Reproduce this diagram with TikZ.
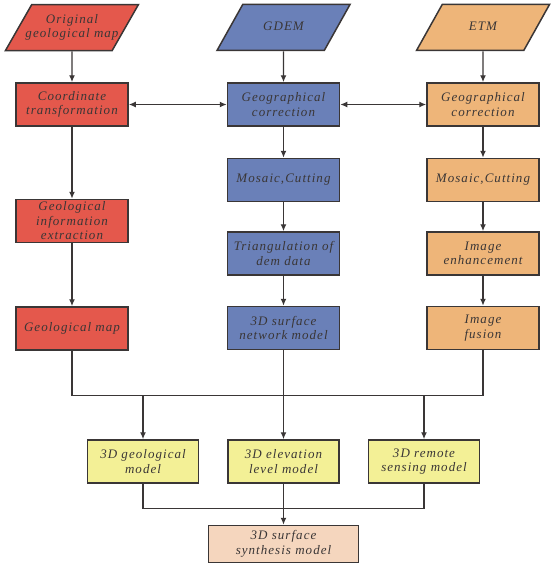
\documentclass[tikz,border=0pt]{standalone}
\usepackage{fontspec}
\setmainfont{Liberation Serif}
\newfontfamily\boxfont[LetterSpace=8]{Liberation Serif}
\usepackage{tikz}
\usetikzlibrary{positioning}
\usetikzlibrary{arrows}
\usetikzlibrary{arrows.meta}
\usetikzlibrary{shapes.geometric,calc}
\definecolor{geored}{RGB}{228,88,76}
\definecolor{demblue}{RGB}{106,128,184}
\definecolor{etmorange}{RGB}{238,181,121}
\definecolor{modelyellow}{RGB}{243,240,150}
\definecolor{synthpeach}{RGB}{245,214,190}
\definecolor{linegray}{RGB}{58,54,54}
\tikzset{proc node/.style={rectangle,draw=linegray,line width=1.5pt,minimum width=112pt,minimum height=43pt,inner sep=1pt,align=center,text=linegray,font=\boxfont\itshape\fontsize{13}{14.5}\selectfont},
data node/.style={trapezium,trapezium stretches body,draw=linegray,line width=1.5pt,minimum width=133pt,minimum height=46pt,inner sep=0pt,align=center,text=linegray,font=\boxfont\itshape\fontsize{13}{14.5}\selectfont},}

\begin{document}
\begin{tikzpicture}[->, >={Latex[length=7pt,width=6pt]}, node distance=30pt, line width=1.3pt, draw=linegray]
	\useasboundingbox (0,0) rectangle (550pt,-563pt);
	% first row of processing boxes
	\node[proc node, fill=geored] (ct) at (72pt,-104.5pt) {Coordinate\\transformation};
	\node[proc node, fill=demblue] (gcM) [right = 98pt of ct] {Geographical\\correction};
	\node[proc node, fill=etmorange] (gcR) [right = 86pt of gcM] {Geographical\\correction};
	% input data
	\node[data node, fill=geored, inner xsep=-8pt, trapezium left angle=45, trapezium right angle=135] (orig) [above = 31pt of ct] {Original\\geological map};
	\node[data node, fill=demblue, text height=9pt, text depth=3pt, trapezium left angle=25, trapezium right angle=155] (gdem) [above = 31pt of gcM] {GDEM};
	\node[data node, fill=etmorange, text height=9pt, text depth=3pt, trapezium left angle=25, trapezium right angle=155] (etm) [above = 31pt of gcR] {ETM};
	% geological column
	\node[proc node, fill=geored] (gie) [below = 72pt of ct] {Geological\\information\\extraction};
	\node[proc node, fill=geored] (gmap) [below = 63pt of gie] {Geological map};
	% dem column
	\node[proc node, fill=demblue] (mosM) [below = 31pt of gcM] {Mosaic,Cutting};
	\node[proc node, fill=demblue] (tri) [below = 29pt of mosM] {Triangulation of\\dem data};
	\node[proc node, fill=demblue] (surf) [below = of tri] {3D surface\\network model};
	% etm column
	\node[proc node, fill=etmorange] (mosR) [below = 31pt of gcR] {Mosaic,Cutting};
	\node[proc node, fill=etmorange] (enh) [below = 29pt of mosR] {Image\\enhancement};
	\node[proc node, fill=etmorange] (fus) [below = of enh] {Image\\fusion};
	% models
	\coordinate[below = 45pt of surf] (busU);
	\node[proc node, fill=modelyellow, minimum width=111pt] (elev) [below = 89pt of surf] {3D elevation\\level model};
	\node[proc node, fill=modelyellow, minimum width=111pt] (geo3d) [left = 28pt of elev] {3D geological\\model};
	\node[proc node, fill=modelyellow, minimum width=111pt] (rs3d) [right = 28pt of elev] {3D remote\\sensing model};
	\coordinate[below = 25pt of elev] (busL);
	\node[proc node, fill=synthpeach, minimum width=150pt, minimum height=37pt] (synth) [below = 41pt of elev] {3D surface\\synthesis model};

	\draw (orig) -- (ct);
	\draw (gdem) -- (gcM);
	\draw (etm) -- (gcR);
	\draw[<->] (ct) -- (gcM);
	\draw[<->] (gcM) -- (gcR);
	\draw (ct) -- (gie);
	\draw (gie) -- (gmap);
	\draw (gcM) -- (mosM);
	\draw (mosM) -- (tri);
	\draw (tri) -- (surf);
	\draw (gcR) -- (mosR);
	\draw (mosR) -- (enh);
	\draw (enh) -- (fus);
	\draw[-] (gmap.south) |- (busU) -| (fus.south);
	\draw[-] (surf) -- (busU);
	\draw (busU) -- (elev);
	\draw (geo3d.north |- busU) -- (geo3d);
	\draw (rs3d.north |- busU) -- (rs3d);
	\draw[-] (geo3d.south) |- (busL) -| (rs3d.south);
	\draw[-] (elev) -- (busL);
	\draw (busL) -- (synth);
\end{tikzpicture}
\end{document}
